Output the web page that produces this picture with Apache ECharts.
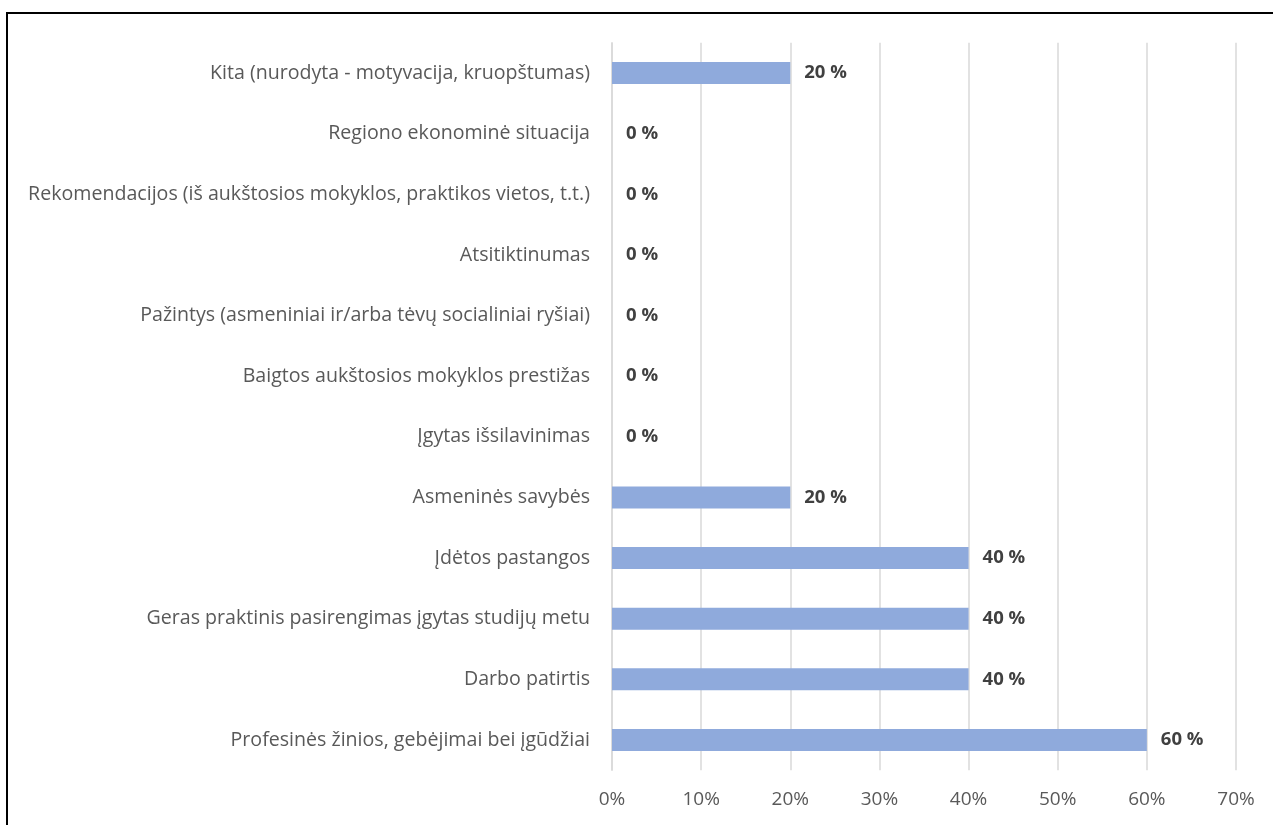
<!DOCTYPE html>
<html>
<head>
<meta charset="utf-8">
<script src="https://cdn.jsdelivr.net/npm/echarts@6/dist/echarts.min.js"></script>
<style>
html,body{margin:0;padding:0;background:#fff;}
#frame{position:absolute;left:6px;top:12px;width:1300px;height:900px;border-left:2.5px solid #000;border-top:2.5px solid #000;}
#chart{position:absolute;left:0;top:0;width:1273px;height:825px;}
</style>
</head>
<body>
<div id="frame"></div>
<div id="chart"></div>
<script>
const categories = [
  "Kita (nurodyta - motyvacija, kruopštumas)",
  "Regiono ekonominė situacija",
  "Rekomendacijos (iš aukštosios mokyklos, praktikos vietos, t.t.)",
  "Atsitiktinumas",
  "Pažintys (asmeniniai ir/arba tėvų socialiniai ryšiai)",
  "Baigtos aukštosios mokyklos prestižas",
  "Įgytas išsilavinimas",
  "Asmeninės savybės",
  "Įdėtos pastangos",
  "Geras praktinis pasirengimas įgytas studijų metu",
  "Darbo patirtis",
  "Profesinės žinios, gebėjimai bei įgūdžiai"
];
const values = [20, 0, 0, 0, 0, 0, 0, 20, 40, 40, 40, 60];
const axisMax = 70;
const axisStep = 10;

const FONT = '"Open Sans", sans-serif';
const chart = echarts.init(document.getElementById('chart'));
chart.setOption({
  animation: false,
  grid: {left: 612, right: 37, top: 42.7, bottom: 54.7, containLabel: false},
  xAxis: {
    type: 'value', min: 0, max: axisMax, interval: axisStep,
    axisLine: {show: false}, axisTick: {show: false},
    splitLine: {lineStyle: {color: '#d9d9d9', width: 1.5}},
    axisLabel: {formatter: '{value}%', color: '#595959', fontSize: 19, fontFamily: FONT, margin: 20}
  },
  yAxis: {
    type: 'category', data: categories, inverse: true,
    axisLine: {show: true, lineStyle: {color: '#d9d9d9', width: 1.5}},
    axisTick: {show: false},
    axisLabel: {color: '#595959', fontSize: 19.6, fontFamily: FONT, margin: 22}
  },
  series: [{
    type: 'bar', data: values, barWidth: 22,
    itemStyle: {color: '#8faadc'},
    label: {show: true, position: 'right', distance: 14, formatter: '{c} %',
      color: '#404040', fontWeight: 'bold', fontSize: 18.5, fontFamily: FONT}
  }]
});
</script>
</body>
</html>
